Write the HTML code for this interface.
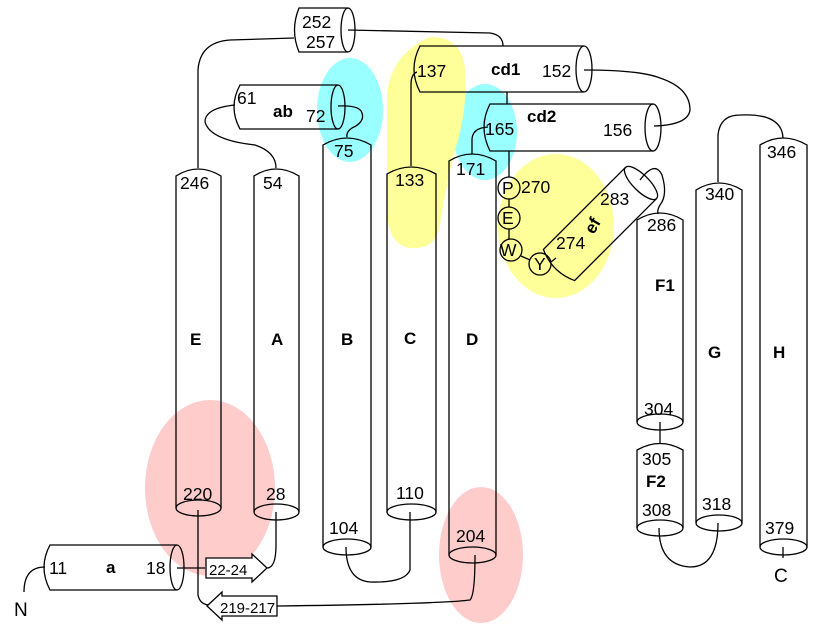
<!DOCTYPE html>
<html><head><meta charset="utf-8"><style>
html,body{margin:0;padding:0;background:#fff;}
svg{display:block;font-family:"Liberation Sans",Arial,sans-serif;}
text{font-size:17.5px;fill:#000;}
.b{font-weight:bold;font-size:17px;}
.s{fill:none;stroke:#000;stroke-width:1.3;}
.l{fill:none;stroke:#000;stroke-width:1.3;}
</style></head><body>
<svg width="820" height="640" viewBox="0 0 820 640" xmlns="http://www.w3.org/2000/svg">
<rect width="820" height="640" fill="#fff"/>
<!-- blobs -->
<ellipse cx="210" cy="488" rx="65" ry="88" fill="#ffcccc"/>
<ellipse cx="481" cy="555" rx="42" ry="68" fill="#ffcccc"/>
<ellipse cx="350" cy="110" rx="33" ry="52" fill="#99ffff"/>
<ellipse cx="485" cy="132" rx="32" ry="48" fill="#99ffff"/>
<path d="M430 37 Q462 36 465 70 Q468 110 455 150 Q445 190 440 225 Q436 250 410 248 Q388 245 387 210 L387 95 Q390 55 430 37 Z" fill="#ffff99"/>
<ellipse cx="556" cy="226" rx="58" ry="72" fill="#ffff99"/>
<!-- connectors -->
<path class="l" d="M198 168 L198 70 Q200 42 230 40 L294 38"/>
<path class="l" d="M348 30 L490 33 Q503 35 503 46"/>
<path class="l" d="M235 105 Q205 108 205 122 Q210 140 255 145 Q276 152 276 168"/>
<path class="l" d="M338 106 Q360 105 362 113 Q365 122 352 128 Q346 132 347 137"/>
<path class="l" d="M417 72 Q411 74 411 85 L411 166"/>
<path class="l" d="M584 70 Q640 70 660 78 Q690 88 690 110 Q688 125 654 126"/>
<path class="l" d="M507 92 L507 104"/>
<path class="l" d="M488 127 Q472 128 472 140 L472 154"/>
<path class="l" d="M509 151 L509 177 M509 199 L509 207 M509 229 L509 239"/>
<path class="l" d="M521 256 L530 260"/>
<path class="l" d="M551 262 L556 258"/>
<path class="l" d="M640 180 Q655 160 662 175 Q668 195 660 205 Q657 210 658 214"/>
<path class="l" d="M660 422 L660 443"/>
<path class="l" d="M718 182 L718 135 Q720 115 740 115 Q782 113 783 138"/>
<path class="l" d="M659 528 Q659 565 690 567 Q718 567 718 523"/>
<path class="l" d="M783 547 L783 558"/>
<path class="l" d="M346 547 Q346 580 370 582 Q405 583 410 570 L410 512"/>
<path class="l" d="M177 568 L205 568"/>
<path class="l" d="M267 568 Q276 568 276 545 L276 512"/>
<path class="l" d="M198 510 L198 595 Q200 605 210 605"/>
<path class="l" d="M277 606 Q440 604 470 600 Q475 595 475 555"/>
<path class="l" d="M45 567 Q24 567 24 592"/>
<!-- vertical cylinders -->
<g>
<path class="s" d="M176 508 L176 176 Q198 162 221 176 L221 508"/><ellipse class="s" cx="198.5" cy="508" rx="22.5" ry="8"/>
<path class="s" d="M254 512 L254 176 Q276 162 299 176 L299 512"/><ellipse class="s" cx="276.5" cy="512" rx="22.5" ry="8"/>
<path class="s" d="M323 547 L323 145 Q347 131 371 145 L371 547"/><ellipse class="s" cx="347" cy="547" rx="24" ry="8"/>
<path class="s" d="M387 512 L387 174 Q411 160 436 174 L436 512"/><ellipse class="s" cx="411.5" cy="512" rx="24.5" ry="8"/>
<path class="s" d="M449 555 L449 161 Q472 147 496 161 L496 555"/><ellipse class="s" cx="472.5" cy="555" rx="23.5" ry="8"/>
<path class="s" d="M637 422 L637 220 Q660 206 683 220 L683 422"/><ellipse class="s" cx="660" cy="422" rx="23" ry="8"/>
<path class="s" d="M637 528 L637 450 Q660 437 683 450 L683 528"/><ellipse class="s" cx="660" cy="528" rx="23" ry="8"/>
<path class="s" d="M696 523 L696 190 Q719 176 742 190 L742 523"/><ellipse class="s" cx="719" cy="523" rx="23" ry="8"/>
<path class="s" d="M760 547 L760 145 Q783 131 807 145 L807 547"/><ellipse class="s" cx="783.5" cy="547" rx="23.5" ry="8"/>
</g>
<!-- horizontal cylinders -->
<path class="s" d="M348 8 L299 8 Q290 30 299 52 L348 52"/><ellipse class="s" cx="348" cy="30" rx="7" ry="22"/>
<path class="s" d="M338 85 L240 85 Q228 107 240 129 L338 129"/><ellipse class="s" cx="338" cy="107" rx="7" ry="22"/>
<path class="s" d="M584 46 L420 46 Q408 69 420 92 L584 92"/><ellipse class="s" cx="584" cy="69" rx="8" ry="23"/>
<path class="s" d="M653 104 L490 104 Q478 127 490 151 L653 151"/><ellipse class="s" cx="653" cy="127.5" rx="8" ry="23.5"/>
<path class="s" d="M177 545 L50 545 Q38 567 50 590 L177 590"/><ellipse class="s" cx="177" cy="567.5" rx="7" ry="22.5"/>
<!-- ef rotated -->
<g transform="translate(600,224) rotate(-45)">
<path class="s" d="M58 -22 L-58 -22 Q-68 0 -58 22 L58 22"/><ellipse class="s" cx="58" cy="0" rx="8" ry="22"/>
</g>
<!-- strands -->
<path class="s" d="M206 558 L252 558 L252 554 L267 568 L252 582 L252 578 L206 578 Z" style="fill:#fff"/>
<path class="s" d="M277 596 L222 596 L222 592 L207 606 L222 620 L222 616 L277 616 Z" style="fill:#fff"/>
<!-- residues -->
<circle class="s" cx="509" cy="188" r="11"/><circle class="s" cx="509" cy="218" r="11"/>
<circle class="s" cx="511" cy="250" r="11"/><circle class="s" cx="540" cy="264" r="11"/>
<text x="502" y="194">P</text><text x="502" y="224">E</text><text x="500" y="256">W</text><text x="534" y="270">Y</text>
<!-- labels -->
<text x="302" y="28">252</text><text x="306" y="48">257</text>
<text x="237" y="104">61</text><text class="b" x="273" y="117">ab</text><text x="306" y="122">72</text>
<text x="417" y="77">137</text><text class="b" x="491" y="75">cd1</text><text x="542" y="77">152</text>
<text x="485" y="135">165</text><text class="b" x="527" y="122">cd2</text><text x="603" y="136">156</text>
<text x="180" y="189">246</text><text x="263" y="189">54</text><text x="334" y="157">75</text>
<text x="395" y="186">133</text><text x="456" y="175">171</text>
<text x="521" y="193">270</text><text x="600" y="205">283</text><text x="556" y="249">274</text>
<text class="b" x="585" y="232" transform="rotate(-60 592 226)">ef</text>
<text x="647" y="231">286</text><text x="705" y="200">340</text><text x="767" y="158">346</text>
<text class="b" x="190" y="345">E</text><text class="b" x="271" y="345">A</text><text class="b" x="341" y="345">B</text>
<text class="b" x="404" y="344">C</text><text class="b" x="466" y="345">D</text>
<text class="b" x="655" y="291">F1</text><text class="b" x="708" y="358">G</text><text class="b" x="773" y="358">H</text>
<text x="644" y="415">304</text><text x="642" y="465">305</text><text class="b" x="646" y="487">F2</text>
<text x="642" y="516">308</text><text x="702" y="510">318</text><text x="765" y="534">379</text>
<text x="183" y="500">220</text><text x="266" y="500">28</text><text x="329" y="534">104</text><text x="396" y="499">110</text><text x="456" y="542">204</text>
<text x="49" y="574">11</text><text class="b" x="106" y="573">a</text><text x="146" y="574">18</text>
<text x="209" y="575" style="font-size:15px">22-24</text><text x="220" y="613" style="font-size:15px">219-217</text>
<text x="14" y="616" style="font-size:19px">N</text><text x="774" y="582" style="font-size:19px">C</text>
</svg>
</body></html>
